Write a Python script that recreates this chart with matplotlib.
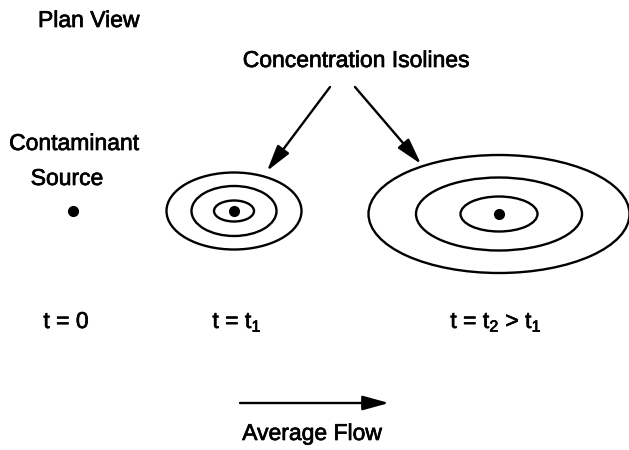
import matplotlib.pyplot as plt
import matplotlib.patheffects as pe
from matplotlib.patches import Ellipse

# Figure coordinates are in pixels of the 629x450 picture (y grows downward)
plt.rcParams['font.family'] = ['Liberation Sans', 'DejaVu Sans']
plt.rcParams['mathtext.fontset'] = 'custom'
plt.rcParams['mathtext.rm'] = 'Liberation Sans'
plt.rcParams['mathtext.it'] = 'Liberation Sans'

# plume centres (x, y) at t = 0, t1, t2
plume_centers = [(73, 211), (234, 211), (499, 214)]
# isoline widths / heights for each plume after the source
isoline_widths = [[135, 85, 40], [261, 166, 77]]
isoline_heights = [[77, 50, 21], [118, 73, 35]]

time_labels = ['t = 0', r't = t$_1$', r't = t$_2$ > t$_1$']
time_label_x = [66, 237, 496]
time_label_y = 328

# arrows from the "Concentration Isolines" label to the plumes
arrow_starts = [(330, 87), (355, 87)]
arrow_ends = [(267, 171), (421, 164)]

# average flow arrow
flow_start = (240, 403)
flow_end = (389, 403)

fig = plt.figure(figsize=(6.29, 4.5), dpi=100)
ax = fig.add_axes([0, 0, 1, 1])
ax.set_xlim(0, 629)
ax.set_ylim(450, 0)
ax.axis('off')

# source point and plume centres
for cx, cy in plume_centers:
    ax.plot(cx, cy, 'o', color='black', markersize=7)

# concentration isolines
for (cx, cy), ws, hs in zip(plume_centers[1:], isoline_widths, isoline_heights):
    for w, h in zip(ws, hs):
        ax.add_patch(Ellipse((cx, cy), w, h, fill=False, edgecolor='black', lw=1.7))

for (x0, y0), (x1, y1) in zip(arrow_starts, arrow_ends):
    ax.annotate('', xy=(x1, y1), xytext=(x0, y0),
                arrowprops=dict(arrowstyle='-|>,head_length=0.8,head_width=0.22',
                                mutation_scale=20, lw=1.7, color='black',
                                shrinkA=0, shrinkB=0))

ax.annotate('', xy=flow_end, xytext=flow_start,
            arrowprops=dict(arrowstyle='-|>,head_length=0.8,head_width=0.22',
                            mutation_scale=20, lw=1.7, color='black',
                            shrinkA=0, shrinkB=0))

# slightly heavier text, like the scanned original
heavy = [pe.withStroke(linewidth=0.5, foreground='black')]
txt = dict(fontsize=16.5, color='black', va='baseline', path_effects=heavy)
ax.text(38, 27, 'Plan View', ha='left', **txt)
ax.text(356, 67, 'Concentration Isolines', ha='center', **txt)
ax.text(74, 150, 'Contaminant', ha='center', **txt)
ax.text(67, 185, 'Source', ha='center', **txt)
for lab, x in zip(time_labels, time_label_x):
    ax.text(x, time_label_y, lab, ha='center', **txt)
ax.text(312, 440, 'Average Flow', ha='center', **txt)

fig.savefig('out.png', dpi=100, facecolor='white')
